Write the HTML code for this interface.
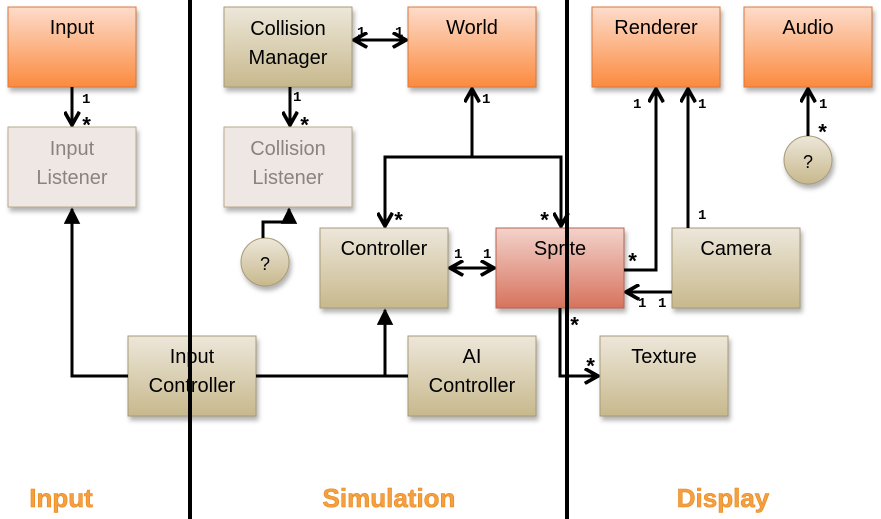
<!DOCTYPE html>
<html><head><meta charset="utf-8"><style>
html,body{margin:0;padding:0;background:#fff;}
svg{display:block;font-family:"Liberation Sans",sans-serif;}
.bt{font-size:20px;text-anchor:middle;fill:#000;}
.gt{font-size:20px;text-anchor:middle;fill:#8a8480;}
.m{font-family:"Liberation Mono",monospace;font-size:14px;font-weight:bold;fill:#000;}
.s{font-family:"Liberation Mono",monospace;font-size:22px;font-weight:bold;fill:#000;}
.st{font-size:26px;font-weight:bold;text-anchor:middle;fill:#f4a040;stroke:#e8861a;stroke-width:0.6;}
.ln{stroke:#000;stroke-width:3;fill:none;}
</style></head><body>
<svg width="881" height="519" viewBox="0 0 881 519">
<defs>
<linearGradient id="or" x1="0" y1="0" x2="0" y2="1"><stop offset="0" stop-color="#fddccb"/><stop offset="1" stop-color="#fb8a3e"/></linearGradient>
<linearGradient id="tn" x1="0" y1="0" x2="0" y2="1"><stop offset="0" stop-color="#ede7da"/><stop offset="1" stop-color="#c7b88c"/></linearGradient>
<linearGradient id="sp" x1="0" y1="0" x2="0" y2="1"><stop offset="0" stop-color="#f3d2cb"/><stop offset="1" stop-color="#d6735d"/></linearGradient>
<filter id="sh" x="-10%" y="-10%" width="130%" height="130%"><feDropShadow dx="2" dy="4" stdDeviation="2.5" flood-color="#000" flood-opacity="0.3"/></filter>
<marker id="a" viewBox="0 0 10 10" refX="9" refY="5" markerWidth="5.5" markerHeight="5.5" orient="auto-start-reverse"><path d="M0,0 L10,5 L0,10 z" fill="#000"/></marker>
<marker id="v" viewBox="0 0 10 10" refX="9" refY="5" markerWidth="5.5" markerHeight="5.5" orient="auto-start-reverse"><path d="M1,0.5 L9,5 L1,9.5" fill="none" stroke="#000" stroke-width="2.2"/></marker>
</defs>
<g filter="url(#sh)">
<rect x="8" y="7" width="128" height="80" fill="url(#or)" stroke="#d9783a"/>
<rect x="8" y="127" width="128" height="80" fill="#efe7e4" stroke="#b8ab8e"/>
<rect x="224" y="7" width="128" height="80" fill="url(#tn)" stroke="#a89a78"/>
<rect x="408" y="7" width="128" height="80" fill="url(#or)" stroke="#d9783a"/>
<rect x="224" y="127" width="128" height="80" fill="#efe7e4" stroke="#b8ab8e"/>
<rect x="592" y="7" width="128" height="80" fill="url(#or)" stroke="#d9783a"/>
<rect x="744" y="7" width="128" height="80" fill="url(#or)" stroke="#d9783a"/>
<rect x="320" y="228" width="128" height="80" fill="url(#tn)" stroke="#a89a78"/>
<rect x="496" y="228" width="128" height="80" fill="url(#sp)" stroke="#b9644f"/>
<rect x="672" y="228" width="128" height="80" fill="url(#tn)" stroke="#a89a78"/>
<rect x="128" y="336" width="128" height="80" fill="url(#tn)" stroke="#a89a78"/>
<rect x="408" y="336" width="128" height="80" fill="url(#tn)" stroke="#a89a78"/>
<rect x="600" y="336" width="128" height="80" fill="url(#tn)" stroke="#a89a78"/>
<circle cx="265" cy="262" r="24" fill="url(#tn)" stroke="#a89a78"/>
<circle cx="808" cy="160" r="24" fill="url(#tn)" stroke="#a89a78"/>
</g>
<text class="bt" x="72" y="34">Input</text>
<text class="gt" x="72" y="155">Input</text><text class="gt" x="72" y="184">Listener</text>
<text class="bt" x="288" y="35">Collision</text><text class="bt" x="288" y="64">Manager</text>
<text class="bt" x="472" y="34">World</text>
<text class="gt" x="288" y="155">Collision</text><text class="gt" x="288" y="184">Listener</text>
<text class="bt" x="656" y="34">Renderer</text>
<text class="bt" x="808" y="34">Audio</text>
<text class="bt" x="384" y="255">Controller</text>
<text class="bt" x="560" y="255">Sprite</text>
<text class="bt" x="736" y="255">Camera</text>
<text class="bt" x="192" y="363">Input</text><text class="bt" x="192" y="392">Controller</text>
<text class="bt" x="472" y="363">AI</text><text class="bt" x="472" y="392">Controller</text>
<text class="bt" x="664" y="363">Texture</text>
<text class="bt" x="265" y="270" style="font-size:18px">?</text>
<text class="bt" x="808" y="168" style="font-size:18px">?</text>
<path class="ln" d="M72,87 V125" marker-end="url(#v)"/>
<path class="ln" d="M290,87 V125" marker-end="url(#v)"/>
<path class="ln" d="M128,376 H72 V209" marker-end="url(#a)"/>
<path class="ln" d="M256,376 H408"/>
<path class="ln" d="M385,376 V310" marker-end="url(#a)"/>
<path class="ln" d="M263,238 V222 H289 V209" marker-end="url(#a)"/>
<path class="ln" d="M354,40 H406" marker-start="url(#v)" marker-end="url(#v)"/>
<path class="ln" d="M472,157 V89" marker-end="url(#v)"/>
<path class="ln" d="M385,226 V157 H561 V226" marker-start="url(#v)" marker-end="url(#v)"/>
<path class="ln" d="M450,268 H494" marker-start="url(#v)" marker-end="url(#v)"/>
<path class="ln" d="M624,270 H656 V89" marker-end="url(#v)"/>
<path class="ln" d="M688,228 V89" marker-end="url(#v)"/>
<path class="ln" d="M672,292 H626" marker-end="url(#v)"/>
<path class="ln" d="M560,308 V376 H598" marker-end="url(#v)"/>
<path class="ln" d="M808,136 V89" marker-end="url(#v)"/>
<text class="m" x="82" y="103">1</text><text class="s" x="80" y="133">*</text>
<text class="m" x="293" y="101">1</text><text class="s" x="298" y="133">*</text>
<text class="m" x="357" y="36">1</text><text class="m" x="395" y="36">1</text>
<text class="m" x="482" y="103">1</text>
<text class="s" x="392" y="228">*</text><text class="s" x="538" y="228">*</text>
<text class="m" x="454" y="258">1</text><text class="m" x="483" y="258">1</text>
<text class="s" x="626" y="269">*</text>
<text class="m" x="633" y="108">1</text><text class="m" x="698" y="108">1</text>
<text class="m" x="698" y="219">1</text>
<text class="m" x="638" y="307">1</text><text class="m" x="658" y="307">1</text>
<text class="s" x="568" y="333">*</text><text class="s" x="584" y="374">*</text>
<text class="m" x="819" y="108">1</text><text class="s" x="816" y="140">*</text>
<rect x="188" y="0" width="4" height="519" fill="#000"/>
<rect x="565" y="0" width="4" height="519" fill="#000"/>
<text class="st" x="61" y="507">Input</text>
<text class="st" x="389" y="507">Simulation</text>
<text class="st" x="723" y="507">Display</text>
</svg>
</body></html>
